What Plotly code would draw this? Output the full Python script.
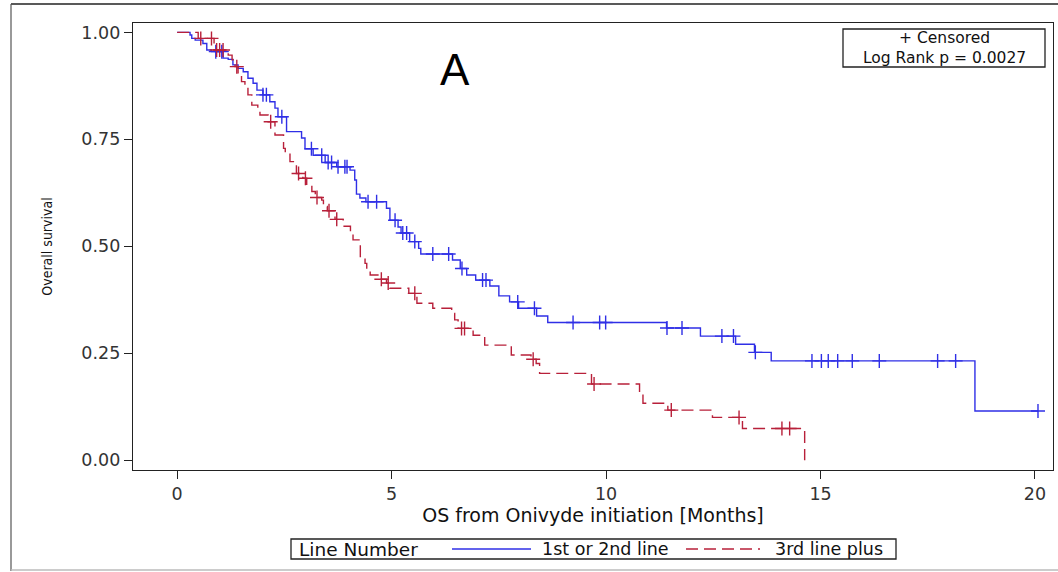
import bisect
import plotly.graph_objects as go

# ---------------- data ----------------
# 1st or 2nd line: step times (months) and survival after each step
blue_time = [0.00, 0.30, 0.34, 0.42, 0.60, 0.69, 0.80, 1.07, 1.19, 1.30, 1.42, 1.54,
             1.65, 1.77, 1.86, 2.00, 2.16, 2.28, 2.35, 2.55, 2.90, 2.98, 3.17, 3.45,
             3.72, 4.03, 4.14, 4.18, 4.26, 4.40, 4.88, 4.96, 5.15, 5.22, 5.42, 5.63,
             5.68, 6.42, 6.60, 6.75, 6.96, 7.29, 7.50, 7.75, 7.96, 8.38, 8.64, 11.41,
             12.20, 13.02, 13.46, 13.85, 18.60, 20.07]
blue_surv = [1.000, 0.994, 0.986, 0.982, 0.974, 0.959, 0.955, 0.940, 0.937, 0.924, 0.916, 0.908,
             0.893, 0.881, 0.865, 0.854, 0.838, 0.823, 0.803, 0.768, 0.753, 0.728, 0.713, 0.696,
             0.686, 0.678, 0.655, 0.622, 0.613, 0.604, 0.589, 0.561, 0.545, 0.531, 0.511, 0.495,
             0.482, 0.468, 0.448, 0.433, 0.421, 0.407, 0.384, 0.370, 0.355, 0.337, 0.322, 0.309,
             0.290, 0.271, 0.252, 0.232, 0.115, 0.115]
blue_censor_time = [0.90, 1.04, 2.00, 2.08, 2.44, 3.13, 3.37, 3.52, 3.60, 3.75, 3.91, 3.96,
                    4.45, 4.65, 5.08, 5.26, 5.35, 5.54, 5.96, 6.33, 6.64, 7.12, 7.20, 7.94,
                    8.33, 9.23, 9.85, 9.99, 11.42, 11.77, 12.70, 12.97, 13.48, 14.80, 15.02,
                    15.18, 15.40, 15.74, 16.37, 17.73, 18.15, 20.07]

# 3rd line plus
red_time = [0.00, 0.49, 0.86, 1.19, 1.28, 1.35, 1.42, 1.50, 1.58, 1.65, 1.74, 1.88,
            1.93, 2.12, 2.28, 2.48, 2.52, 2.63, 2.71, 2.78, 2.93, 3.02, 3.14, 3.22,
            3.37, 3.41, 3.50, 3.68, 3.87, 4.04, 4.10, 4.27, 4.38, 4.42, 4.50, 4.70,
            4.88, 4.96, 5.40, 5.59, 5.96, 6.40, 6.47, 6.55, 6.90, 7.17, 7.79, 8.25,
            8.37, 8.45, 9.66, 10.78, 10.86, 11.44, 12.48, 13.18, 14.63]
red_surv = [1.000, 0.986, 0.959, 0.947, 0.936, 0.920, 0.901, 0.885, 0.873, 0.854, 0.830, 0.819,
            0.807, 0.791, 0.760, 0.729, 0.717, 0.698, 0.690, 0.670, 0.659, 0.643, 0.628, 0.614,
            0.608, 0.593, 0.583, 0.563, 0.547, 0.530, 0.515, 0.476, 0.460, 0.444, 0.433, 0.423,
            0.414, 0.402, 0.390, 0.367, 0.355, 0.343, 0.328, 0.308, 0.292, 0.269, 0.246, 0.236,
            0.226, 0.203, 0.178, 0.156, 0.133, 0.117, 0.100, 0.074, 0.000]
red_censor_time = [0.55, 0.80, 0.92, 0.99, 1.07, 1.39, 2.18, 2.83, 2.99, 3.26, 3.54, 3.72,
                   4.76, 4.92, 5.54, 6.63, 6.70, 8.30, 9.72, 11.52, 13.10, 14.10, 14.28]

series_names = ["1st or 2nd line", "3rd line plus"]
x_ticks = [0, 5, 10, 15, 20]
y_ticks = [0.00, 0.25, 0.50, 0.75, 1.00]
y_tick_labels = ["0.00", "0.25", "0.50", "0.75", "1.00"]
legend_title = "Line Number"
inset_lines = ["+ Censored", "Log Rank p = 0.0027"]
panel_label = "A"

BLUE = "#2f2fe6"
RED = "#b8203a"


def surv_at(times, surv, t):
    i = bisect.bisect_right(times, t) - 1
    return surv[max(i, 0)]


blue_censor_surv = [surv_at(blue_time, blue_surv, t) for t in blue_censor_time]
red_censor_surv = [surv_at(red_time, red_surv, t) for t in red_censor_time]

# ---------------- figure ----------------
W, H = 1058, 572
L, R, T, B = 133, 5, 23, 102
PW, PH = W - L - R, H - T - B


def px(x):
    return (x - L) / PW


def py(y):
    return (H - B - y) / PH


fig = go.Figure()
fig.add_trace(go.Scatter(x=blue_time, y=blue_surv, mode="lines", line_shape="hv",
                         line=dict(color=BLUE, width=1.4), name=series_names[0],
                         showlegend=False, hoverinfo="skip"))
fig.add_trace(go.Scatter(x=blue_censor_time, y=blue_censor_surv, mode="markers",
                         marker=dict(symbol="cross-thin", size=10,
                                     line=dict(color=BLUE, width=1.4)),
                         name=series_names[0] + " censored", showlegend=False))
fig.add_trace(go.Scatter(x=red_time, y=red_surv, mode="lines", line_shape="hv",
                         line=dict(color=RED, width=1.4, dash="12px,6px"),
                         name=series_names[1], showlegend=False, hoverinfo="skip"))
fig.add_trace(go.Scatter(x=red_censor_time, y=red_censor_surv, mode="markers",
                         marker=dict(symbol="cross-thin", size=10,
                                     line=dict(color=RED, width=1.4)),
                         name=series_names[1] + " censored", showlegend=False))

TICKFONT = dict(family="DejaVu Sans", size=17.5, color="#333333")
axis_common = dict(showgrid=False, zeroline=False, showline=True, linecolor="#222222",
                   linewidth=1.4, mirror=True, ticks="outside", ticklen=8, tickwidth=1.4,
                   tickcolor="#222222", tickfont=TICKFONT)

fig.update_xaxes(range=[-1.03, 20.42], tickvals=x_ticks, **axis_common,
                 title=dict(text="OS from Onivyde initiation [Months]",
                            font=dict(family="DejaVu Sans", size=19, color="#111111"),
                            standoff=5))
fig.update_yaxes(range=[-0.023, 1.022], tickvals=y_ticks, ticktext=y_tick_labels,
                 **axis_common,
                 title=dict(text="Overall survival",
                            font=dict(family="DejaVu Sans Condensed, DejaVu Sans, sans-serif",
                                      size=14, color="#111111"),
                            standoff=25))

shapes = []
annotations = []

# outer frame of the picture
shapes.append(dict(type="line", xref="paper", yref="paper", x0=px(11), x1=px(1070),
                   y0=py(4), y1=py(4), line=dict(color="#222222", width=1.5)))
shapes.append(dict(type="line", xref="paper", yref="paper", x0=px(11), x1=px(11),
                   y0=py(4), y1=py(571), line=dict(color="#555555", width=1.2)))
shapes.append(dict(type="line", xref="paper", yref="paper", x0=px(11), x1=px(1070),
                   y0=py(570), y1=py(570), line=dict(color="#bbbbbb", width=1.5)))

# inset box
shapes.append(dict(type="rect", xref="paper", yref="paper", x0=px(843), x1=px(1045),
                   y0=py(29), y1=py(67), line=dict(color="#222222", width=1.3),
                   fillcolor="white"))
annotations.append(dict(text="<br>".join(inset_lines), xref="paper", yref="paper",
                        x=px(944), y=py(48), xanchor="center", yanchor="middle",
                        align="center", showarrow=False,
                        font=dict(family="DejaVu Sans", size=15.5, color="#111111")))

# panel label
annotations.append(dict(text=panel_label, xref="paper", yref="paper", x=px(455), y=py(69),
                        xanchor="center", yanchor="middle", showarrow=False,
                        font=dict(family="Liberation Sans", size=44, color="#000000")))

# legend (bottom)
LEG_Y = 549
shapes.append(dict(type="rect", xref="paper", yref="paper", x0=px(291), x1=px(896),
                   y0=py(539), y1=py(559), line=dict(color="#222222", width=1.3),
                   fillcolor="white"))
LEGFONT = dict(family="DejaVu Sans", size=17.5, color="#111111")
annotations.append(dict(text=legend_title, xref="paper", yref="paper", x=px(297), y=py(LEG_Y),
                        xanchor="left", yanchor="middle", showarrow=False,
                        font=dict(family="DejaVu Sans", size=18.5, color="#111111")))
shapes.append(dict(type="line", xref="paper", yref="paper", x0=px(452), x1=px(531),
                   y0=py(LEG_Y), y1=py(LEG_Y), line=dict(color=BLUE, width=1.4)))
annotations.append(dict(text=series_names[0], xref="paper", yref="paper", x=px(540), y=py(LEG_Y),
                        xanchor="left", yanchor="middle", showarrow=False, font=LEGFONT))
shapes.append(dict(type="line", xref="paper", yref="paper", x0=px(686), x1=px(760),
                   y0=py(LEG_Y), y1=py(LEG_Y),
                   line=dict(color=RED, width=1.4, dash="12px,6px")))
annotations.append(dict(text=series_names[1], xref="paper", yref="paper", x=px(773), y=py(LEG_Y),
                        xanchor="left", yanchor="middle", showarrow=False, font=LEGFONT))

fig.update_layout(width=W, height=H, margin=dict(l=L, r=R, t=T, b=B, autoexpand=False),
                  paper_bgcolor="white", plot_bgcolor="white", showlegend=False,
                  shapes=shapes, annotations=annotations)

fig.write_html("out.html")
